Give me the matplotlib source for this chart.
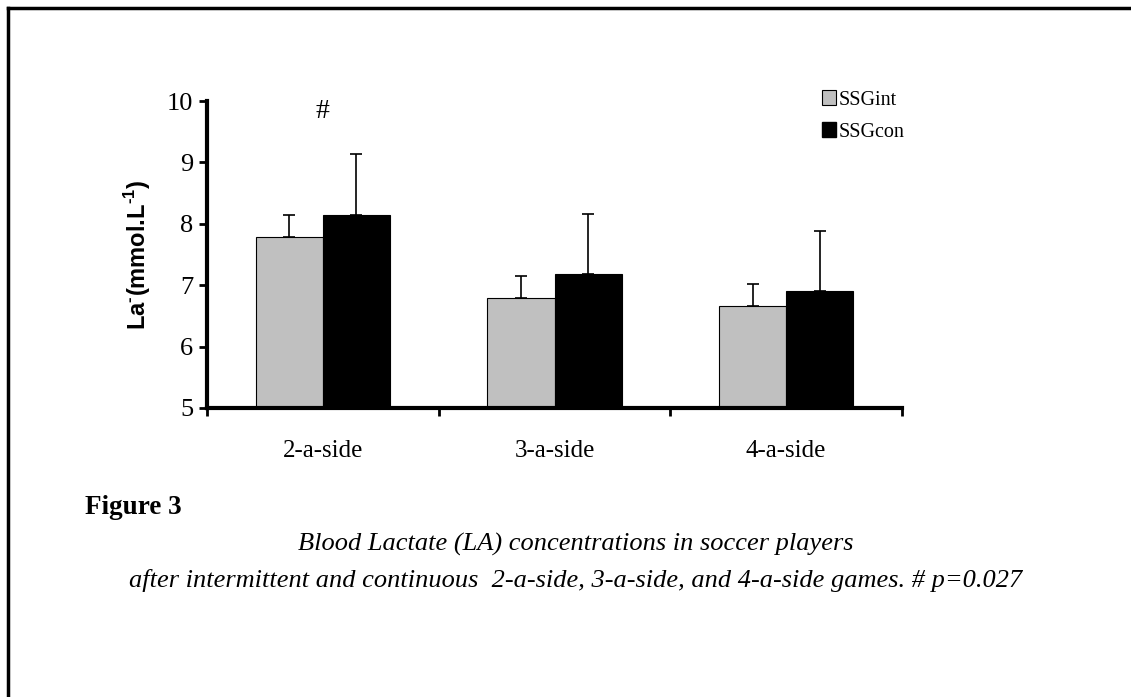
import matplotlib.pyplot as plt
from matplotlib.patches import Patch
from matplotlib.lines import Line2D

games = ['2-a-side', '3-a-side', '4-a-side']
ssg_int = [7.78, 6.79, 6.66]
ssg_int_sd = [0.36, 0.36, 0.36]
ssg_con = [8.15, 7.18, 6.90]
ssg_con_sd = [0.98, 0.98, 0.98]

plt.rcParams['mathtext.fontset'] = 'custom'
plt.rcParams['mathtext.rm'] = 'Liberation Sans:bold'
plt.rcParams['mathtext.bf'] = 'Liberation Sans:bold'

fig = plt.figure(figsize=(11.31, 6.97), dpi=100)
ax = fig.add_axes([207 / 1131, 1 - 408 / 697, 695 / 1131, 307 / 697])

x = list(range(len(games)))
w = 0.29
xi = [i - w / 2 for i in x]
xc = [i + w / 2 for i in x]

ax.errorbar(xi, ssg_int, yerr=[[0] * 3, ssg_int_sd], fmt='none', ecolor='black',
            elinewidth=1.2, capsize=4.5, capthick=1.2, zorder=1)
ax.errorbar(xc, ssg_con, yerr=[[0] * 3, ssg_con_sd], fmt='none', ecolor='black',
            elinewidth=1.2, capsize=4.5, capthick=1.2, zorder=1)
ax.bar(xi, ssg_int, width=w, bottom=0, color='#c0c0c0', edgecolor='black', linewidth=0.8, zorder=2)
ax.bar(xc, ssg_con, width=w, bottom=0, color='black', edgecolor='black', linewidth=0.8, zorder=2)

ax.set_ylim(5, 10)
ax.set_xlim(-0.5, 2.5)
ax.set_yticks([5, 6, 7, 8, 9, 10])
ax.set_xticks(x)
ax.set_xticklabels(games, fontfamily='Liberation Serif', fontsize=18)
ax.set_xticks([-0.5, 0.5, 1.5, 2.5], minor=True)
ax.tick_params(axis='x', which='major', length=0, pad=23)
ax.tick_params(axis='x', which='minor', length=6, width=2, direction='out')
ax.tick_params(axis='y', length=6, width=2, direction='out', pad=4)
for lab in ax.get_yticklabels():
    lab.set_fontfamily('Liberation Serif')
    lab.set_fontsize(19)

for s in ['top', 'right']:
    ax.spines[s].set_visible(False)
ax.spines['left'].set_linewidth(3)
ax.spines['bottom'].set_linewidth(3)

ax.set_ylabel(r'La$^{\text{-}}$(mmol.L$^{\text{-1}}$)', fontfamily='Liberation Sans',
              fontweight='bold', fontsize=17, labelpad=10)

ax.text(0, 9.83, '#', ha='center', va='center', fontfamily='Liberation Serif', fontsize=20)

handles = [Patch(facecolor='#c0c0c0', edgecolor='black', linewidth=0.8),
           Patch(facecolor='black', edgecolor='black')]
fig.legend(handles, ['SSGint', 'SSGcon'], loc='upper left', bbox_to_anchor=(812 / 1131, 1 - 80 / 697),
           frameon=False, prop={'family': 'Liberation Serif', 'size': 14.5},
           handlelength=0.7, handleheight=0.8, handletextpad=0.1, labelspacing=0.6, borderpad=0)

fig.text(85 / 1131, 1 - 507 / 697, 'Figure 3', fontfamily='Liberation Serif', fontweight='bold',
         fontsize=19.5, va='center', ha='left')
fig.text(576 / 1131, 1 - 544 / 697, 'Blood Lactate (LA) concentrations in soccer players',
         fontfamily='Liberation Serif', style='italic', fontsize=19, ha='center', va='center')
fig.text(576 / 1131, 1 - 580 / 697,
         'after intermittent and continuous  2-a-side, 3-a-side, and 4-a-side games. # p=0.027',
         fontfamily='Liberation Serif', style='italic', fontsize=19, ha='center', va='center')

fig.add_artist(Line2D([8 / 1131, 8 / 1131], [0, 1 - 8 / 697], color='black', linewidth=2.5))
fig.add_artist(Line2D([8 / 1131, 1], [1 - 8 / 697, 1 - 8 / 697], color='black', linewidth=2.5))

fig.savefig('out.png', dpi=100)
